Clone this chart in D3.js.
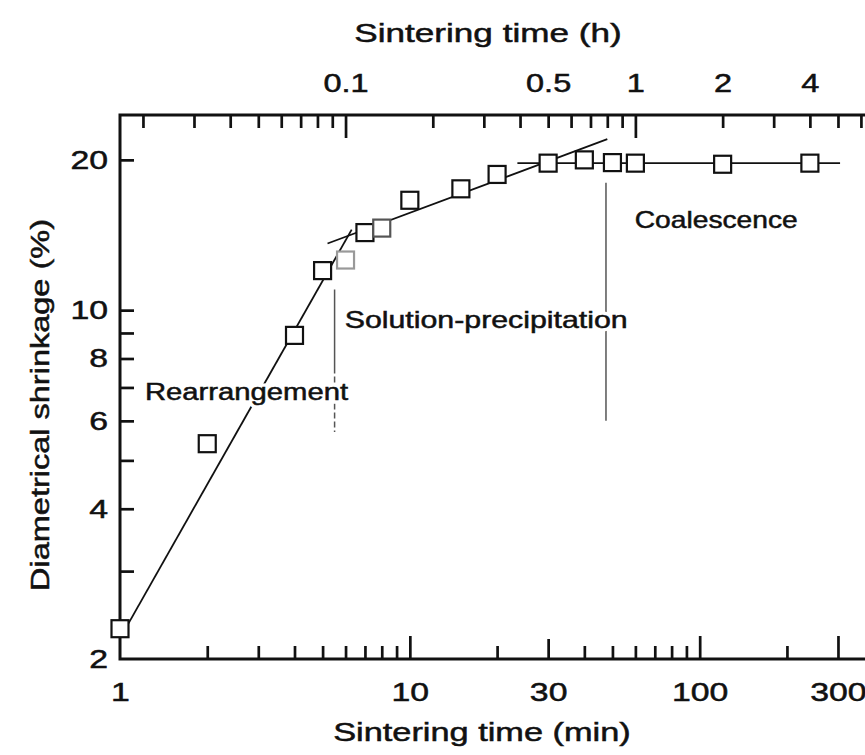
<!DOCTYPE html>
<html>
<head>
<meta charset="utf-8">
<script src="https://cdn.jsdelivr.net/npm/d3@7"></script>
<style>
body { margin: 0; background: #fff; }
svg text { font-family: "Liberation Sans", Arial, Helvetica, sans-serif; fill: #111; stroke: #111; stroke-width: 0.5px; }
svg text.halo { fill: #fff; stroke: #fff; stroke-width: 7px; }
</style>
</head>
<body>
<svg id="chart" width="865" height="755"></svg>
<script>
// values
const timeMin   = [1, 2, 4, 5, 6, 7, 8, 10, 15, 20, 30, 40, 50, 60, 120, 240];
const shrinkage = [2.3, 5.4, 8.9, 12.0, 12.6, 14.3, 14.6, 16.6, 17.5, 18.7, 19.7, 20.0, 19.75, 19.7, 19.6, 19.7];
const fadedTimes = [6, 8];

// fitted lines for each stage, [time (min), shrinkage (%)]
const rearrangeFit = [[1, 2.2], [6.3, 14.5]];
const solutionFit  = [[5.2, 13.6], [48, 22.0]];
const coalesceFit  = [[23.5, 19.7], [305, 19.7]];

// stage boundaries: time, top and bottom shrinkage
const boundaryTimes  = [5.5, 47.5];
const boundaryTop    = [11.0, 18.0];
const boundaryBottom = [5.7, 6.0];

const stageNames = ["Rearrangement", "Solution-precipitation", "Coalescence"];

// ticks
const minTicksMinor = [2, 3, 4, 5, 6, 7, 8, 9, 20, 40, 50, 60, 70, 80, 90, 200];
const minTicksMid   = [30];
const minTicksMajor = [10, 100, 300];
const minLabels     = [1, 10, 30, 100, 300];
const hourTicksMinor = [0.02, 0.03, 0.04, 0.05, 0.06, 0.07, 0.08, 0.09,
                        0.2, 0.3, 0.4, 0.5, 0.6, 0.7, 0.8, 0.9, 2, 3, 4, 5, 6];
const hourTicksMajor = [0.1, 1];
const hourLabels     = [0.1, 0.5, 1, 2, 4];
const yTicks  = [3, 4, 5, 6, 7, 8, 9, 10, 20];
const yLabels = [2, 4, 6, 8, 10, 20];

//* chart *//
const svg = d3.select("#chart");
const mLeft = 120, mRight = 871, mTop = 115, mBottom = 659;
const STRETCH = 1.3; // the figure's lettering is wide

const x  = d3.scaleLog().domain([1, 390]).range([mLeft, mRight]);
const xh = d3.scaleLog().domain([1 / 60, 390 / 60]).range([mLeft, mRight]);
const y  = d3.scaleLog().domain([2, 24.6]).range([mBottom, mTop]);

function stretch(sel, k) {
  sel.each(function() {
    const w = this.getComputedTextLength();
    this.setAttribute("textLength", w * k);
    this.setAttribute("lengthAdjust", "spacingAndGlyphs");
  });
}

function tickGroup(axis, transform) {
  const g = svg.append("g").attr("transform", transform).call(axis);
  g.select(".domain").remove();
  g.selectAll("line").attr("stroke", "#111").attr("stroke-width", 2.7);
  return g;
}

// bottom axis ticks
tickGroup(d3.axisBottom(x).tickValues(minTicksMinor).tickSize(-13).tickFormat(""), "translate(0," + mBottom + ")");
tickGroup(d3.axisBottom(x).tickValues(minTicksMid).tickSize(-20).tickFormat(""), "translate(0," + mBottom + ")");
tickGroup(d3.axisBottom(x).tickValues(minTicksMajor).tickSize(-23).tickFormat(""), "translate(0," + mBottom + ")");
const xLab = svg.append("g").attr("transform", "translate(0," + mBottom + ")")
  .call(d3.axisBottom(x).tickValues(minLabels).tickSize(0).tickPadding(24).tickFormat(d3.format("d")));
xLab.select(".domain").remove();
xLab.selectAll("text").attr("font-size", 26).attr("dy", "0.71em").attr("fill", "#111");

// top axis ticks
tickGroup(d3.axisTop(xh).tickValues(hourTicksMinor).tickSize(-13).tickFormat(""), "translate(0," + mTop + ")");
tickGroup(d3.axisTop(xh).tickValues(hourTicksMajor).tickSize(-23).tickFormat(""), "translate(0," + mTop + ")");
const hLab = svg.append("g").attr("transform", "translate(0," + mTop + ")")
  .call(d3.axisTop(xh).tickValues(hourLabels).tickSize(0).tickPadding(23).tickFormat(function(d) { return d; }));
hLab.select(".domain").remove();
hLab.selectAll("text").attr("font-size", 25).attr("fill", "#111");

// left axis ticks
tickGroup(d3.axisLeft(y).tickValues(yTicks).tickSize(-14).tickFormat(""), "translate(" + mLeft + ",0)");
const yLab = svg.append("g").attr("transform", "translate(" + mLeft + ",0)")
  .call(d3.axisLeft(y).tickValues(yLabels).tickSize(0).tickPadding(12).tickFormat(d3.format("d")));
yLab.select(".domain").remove();
yLab.selectAll("text").attr("font-size", 26).attr("fill", "#111");

stretch(svg.selectAll(".tick text"), STRETCH);

// frame lines
svg.append("path")
  .attr("d", "M" + mRight + "," + mTop + "H" + mLeft + "V" + mBottom + "H" + mRight)
  .attr("fill", "none").attr("stroke", "#111").attr("stroke-width", 3)
  .attr("stroke-linejoin", "miter");

// axis titles
stretch(svg.append("text").attr("x", 482).attr("y", 741).attr("text-anchor", "middle")
  .attr("font-size", 26).text("Sintering time (min)"), 1.32);
stretch(svg.append("text").attr("x", 488).attr("y", 42).attr("text-anchor", "middle")
  .attr("font-size", 26).text("Sintering time (h)"), 1.35);
stretch(svg.append("text").attr("transform", "translate(49,405) rotate(-90)").attr("text-anchor", "middle")
  .attr("font-size", 25).text("Diametrical shrinkage (%)"), 1.3);

// stage boundaries
boundaryTimes.forEach(function(t, i) {
  svg.append("line")
    .attr("x1", x(t)).attr("x2", x(t))
    .attr("y1", y(boundaryTop[i])).attr("y2", y(boundaryBottom[i]))
    .attr("stroke", "#555").attr("stroke-width", 1.5)
    .attr("stroke-dasharray", i === 0 ? "84,3,6,3,6,3,6,3,6,3,6,3,6,3" : null);
});

// fitted lines
const line = d3.line().x(function(d) { return x(d[0]); }).y(function(d) { return y(d[1]); });
[rearrangeFit, solutionFit, coalesceFit].forEach(function(seg) {
  svg.append("path").attr("d", line(seg))
    .attr("fill", "none").attr("stroke", "#111").attr("stroke-width", 1.8);
});

// stage labels, white copy underneath breaks the lines like the original
const labelAt = [[1.22, 6.62, 23, 203], [5.96, 9.22, 24, 283], [59.7, 14.6, 24, 163]];
["halo", "ink"].forEach(function(layer) {
  stageNames.forEach(function(name, i) {
    svg.append("text")
      .attr("class", layer === "halo" ? "halo" : null)
      .attr("x", x(labelAt[i][0])).attr("y", y(labelAt[i][1]))
      .attr("font-size", labelAt[i][2])
      .attr("textLength", labelAt[i][3]).attr("lengthAdjust", "spacingAndGlyphs")
      .text(name);
  });
});

// data squares
const pts = timeMin.map(function(t, i) { return {t: t, s: shrinkage[i]}; });
const sq = 17;
svg.append("g").selectAll("rect")
  .data(pts)
  .enter().append("rect")
  .attr("x", function(d) { return x(d.t) - sq / 2; })
  .attr("y", function(d) { return y(d.s) - sq / 2; })
  .attr("width", sq).attr("height", sq)
  .attr("fill", "#fff")
  .attr("stroke", function(d) { return d.t === fadedTimes[0] ? "#999" : d.t === fadedTimes[1] ? "#555" : "#111"; })
  .attr("stroke-width", 2.2);
</script>
</body>
</html>
